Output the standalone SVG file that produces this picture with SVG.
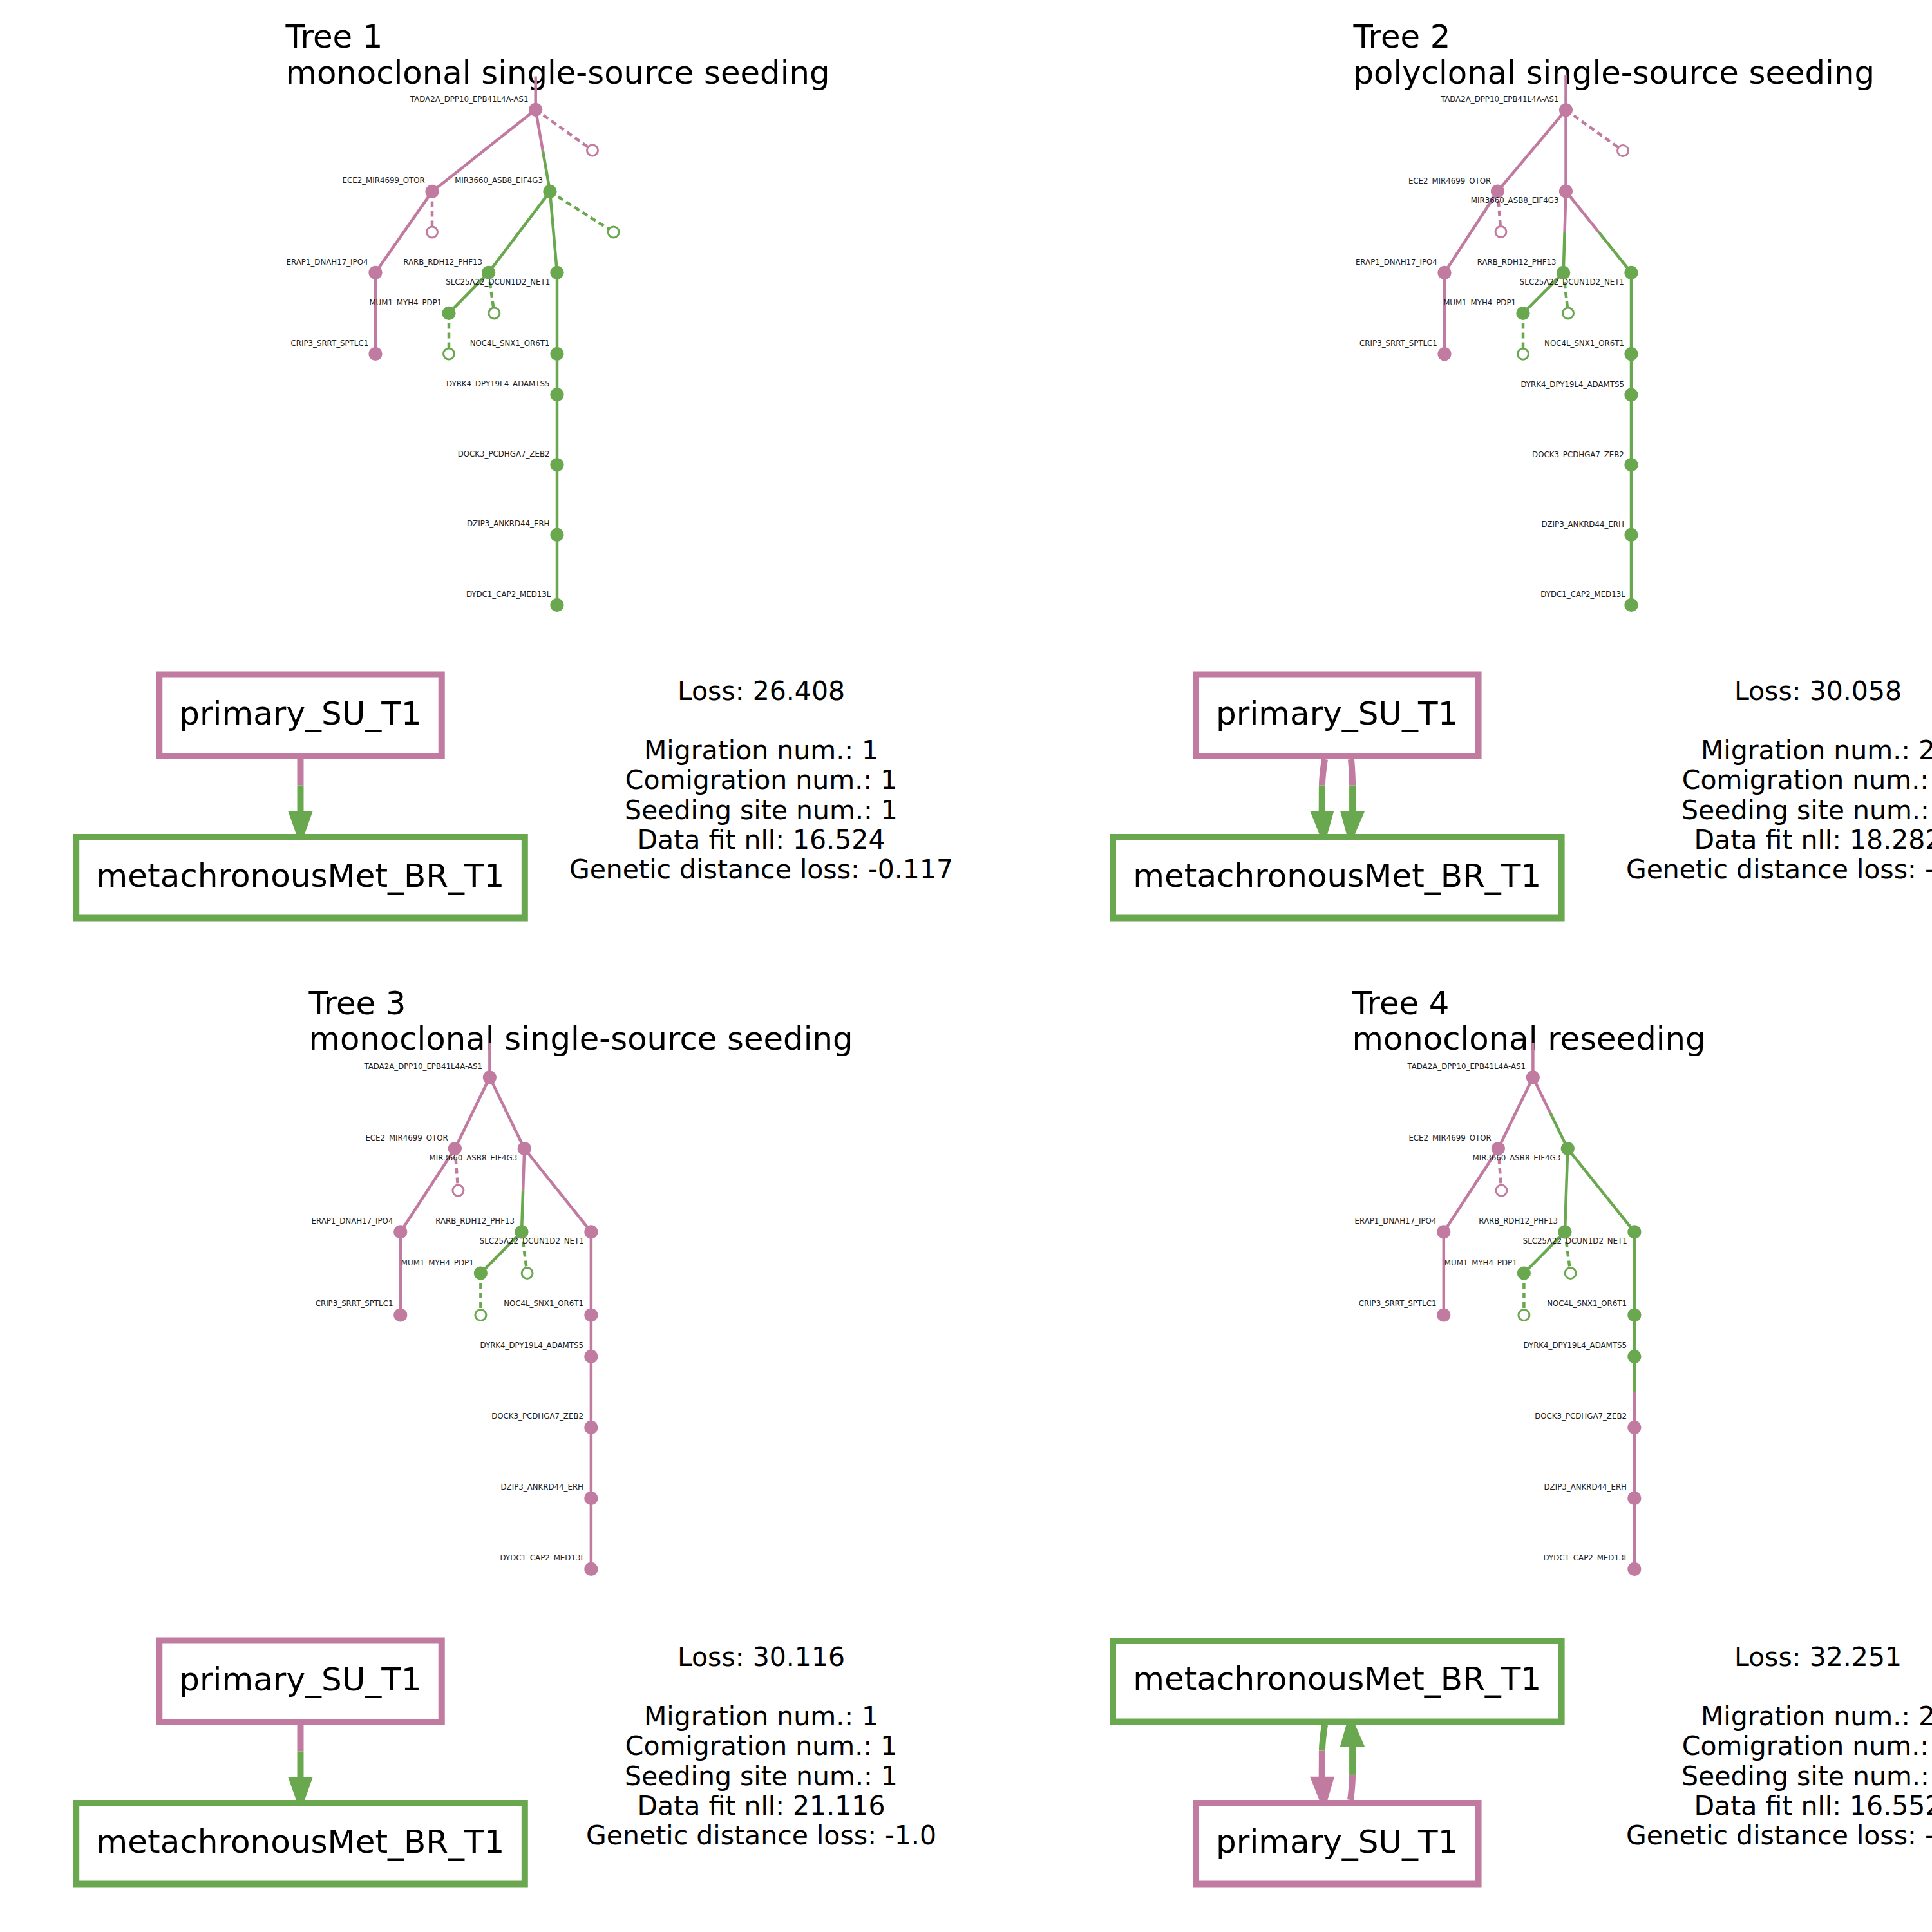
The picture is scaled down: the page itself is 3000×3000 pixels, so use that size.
<svg xmlns="http://www.w3.org/2000/svg" width="3000" height="3000" viewBox="0 0 3000 3000">
<style>
.e{fill:none;stroke-width:4.5}
.p{stroke:#c27ba0}
.g{stroke:#6aa84f}
.d{stroke-dasharray:9 6}
.np{fill:#c27ba0}
.ng{fill:#6aa84f}
.hp{fill:#fff;stroke:#c27ba0;stroke-width:3}
.hg{fill:#fff;stroke:#6aa84f;stroke-width:3}
text{font-family:'DejaVu Sans','Liberation Sans',sans-serif;fill:#000}
.l{font-size:11.8px;text-anchor:end;fill:#1a1a1a}
.t{font-size:49.7px}
.b{font-size:50px;text-anchor:middle}
.s{font-size:41px;text-anchor:middle}
.bp{fill:#fff;stroke:#c27ba0;stroke-width:10}
.bg{fill:#fff;stroke:#6aa84f;stroke-width:10}
.me{fill:none;stroke-width:10}
.ap{fill:#c27ba0}
.ag{fill:#6aa84f}
</style>
<rect width="3000" height="3000" fill="#fff"/>

<g id="titles">
<text class="t"><tspan x="443.5" y="74">Tree 1</tspan><tspan x="443.5" y="129.5">monoclonal single-source seeding</tspan></text>
<text class="t"><tspan x="2101.5" y="74">Tree 2</tspan><tspan x="2101.5" y="129.5">polyclonal single-source seeding</tspan></text>
<text class="t"><tspan x="479.5" y="1574.5">Tree 3</tspan><tspan x="479.5" y="1630">monoclonal single-source seeding</tspan></text>
<text class="t"><tspan x="2099.5" y="1574.5">Tree 4</tspan><tspan x="2099.5" y="1630">monoclonal reseeding</tspan></text>
</g>

<g id="tree-connectors">
<!-- Tree 1 -->
<path class="e p" d="M831.7,118.6V170.3"/>
<path class="e p d" d="M831.7,170.3L920,233.4"/>
<path class="e p" d="M831.7,170.3L671,297.4"/>
<path class="e p" d="M831.7,170.3L842.85,233.85"/>
<path class="e g" d="M842.85,233.85L854,297.4"/>
<path class="e p d" d="M671,297.4V360.5"/>
<path class="e g d" d="M854,297.4L952.7,360.5"/>
<path class="e p" d="M671,297.4L583,423.3V549.5"/>
<path class="e g" d="M854,297.4L758.6,423.3L697,486.4"/>
<path class="e g d" d="M758.6,423.3L767.4,486.4"/>
<path class="e g d" d="M697,486.4V549.5"/>
<path class="e g" d="M854,297.4L865,423.3V939.5"/>
<!-- Tree 2 -->
<path class="e p" d="M2431.5,117V170.8"/>
<path class="e p d" d="M2431.5,170.8L2520,234"/>
<path class="e p" d="M2431.5,170.8L2325.5,297"/>
<path class="e p" d="M2431.5,170.8V297"/>
<path class="e p d" d="M2325.5,297L2330.5,360"/>
<path class="e p" d="M2325.5,297L2243,423.4V549.7"/>
<path class="e p" d="M2431.5,297L2429.6,360.2"/>
<path class="e g" d="M2429.6,360.2L2427.7,423.4L2365,486.5"/>
<path class="e p" d="M2431.5,297L2482.25,360.2"/>
<path class="e g" d="M2482.25,360.2L2533,423.4V939.5"/>
<path class="e g d" d="M2427.7,423.4L2435,486.5"/>
<path class="e g d" d="M2365,486.5V549.7"/>
<!-- Tree 3 -->
<path class="e p" d="M760.4,1620V1672.9"/>
<path class="e p" d="M760.4,1672.9L706.4,1783.6"/>
<path class="e p" d="M760.4,1672.9L814.3,1783.6"/>
<path class="e p d" d="M706.4,1783.6L711.4,1848.6"/>
<path class="e p" d="M706.4,1783.6L621.8,1912.9V2042"/>
<path class="e p" d="M814.3,1783.6L812.15,1848.25"/>
<path class="e g" d="M812.15,1848.25L810,1912.9L746.4,1977"/>
<path class="e g d" d="M810,1912.9L818.6,1977"/>
<path class="e g d" d="M746.4,1977V2042"/>
<path class="e p" d="M814.3,1783.6L917.9,1912.9V2436.4"/>
<!-- Tree 4 -->
<path class="e p" d="M2380.4,1620V1672.9"/>
<path class="e p" d="M2380.4,1672.9L2326.4,1783.6"/>
<path class="e p" d="M2380.4,1672.9L2407.35,1728.25"/>
<path class="e g" d="M2407.35,1728.25L2434.3,1783.6"/>
<path class="e p d" d="M2326.4,1783.6L2331.4,1848.6"/>
<path class="e p" d="M2326.4,1783.6L2241.8,1912.9V2042"/>
<path class="e g" d="M2434.3,1783.6L2430,1912.9L2366.4,1977"/>
<path class="e g d" d="M2430,1912.9L2438.6,1977"/>
<path class="e g d" d="M2366.4,1977V2042"/>
<path class="e g" d="M2434.3,1783.6L2537.9,1912.9V2161.4"/>
<path class="e p" d="M2537.9,2161.4V2436.4"/>
</g>

<g id="tree1-nodes">
<g id="t1-TADA2A"><circle class="np" cx="831.7" cy="170.3" r="10.6"/><text class="l" x="820.5" y="157.7">TADA2A_DPP10_EPB41L4A-AS1</text></g>
<g id="t1-h0"><circle class="hp" cx="920" cy="233.4" r="8.5"/></g>
<g id="t1-ECE2"><circle class="np" cx="671" cy="297.4" r="10.6"/><text class="l" x="659.8" y="284">ECE2_MIR4699_OTOR</text></g>
<g id="t1-h1"><circle class="hp" cx="671" cy="360.5" r="8.5"/></g>
<g id="t1-MIR3660"><circle class="ng" cx="854" cy="297.4" r="10.6"/><text class="l" x="842.9" y="284">MIR3660_ASB8_EIF4G3</text></g>
<g id="t1-h2"><circle class="hg" cx="952.7" cy="360.5" r="8.5"/></g>
<g id="t1-ERAP1"><circle class="np" cx="583" cy="423.3" r="10.6"/><text class="l" x="571.5" y="410.6">ERAP1_DNAH17_IPO4</text></g>
<g id="t1-RARB"><circle class="ng" cx="758.6" cy="423.3" r="10.6"/><text class="l" x="749" y="410.6">RARB_RDH12_PHF13</text></g>
<g id="t1-SLC25A22"><circle class="ng" cx="865" cy="423.3" r="10.6"/><text class="l" x="854.3" y="442">SLC25A22_DCUN1D2_NET1</text></g>
<g id="t1-MUM1"><circle class="ng" cx="697" cy="486.4" r="10.6"/><text class="l" x="686.3" y="473.8">MUM1_MYH4_PDP1</text></g>
<g id="t1-h3"><circle class="hg" cx="767.4" cy="486.4" r="8.5"/></g>
<g id="t1-CRIP3"><circle class="np" cx="583" cy="549.5" r="10.6"/><text class="l" x="572.2" y="537">CRIP3_SRRT_SPTLC1</text></g>
<g id="t1-h4"><circle class="hg" cx="697" cy="549.5" r="8.5"/></g>
<g id="t1-NOC4L"><circle class="ng" cx="865" cy="549.5" r="10.6"/><text class="l" x="853.5" y="537">NOC4L_SNX1_OR6T1</text></g>
<g id="t1-DYRK4"><circle class="ng" cx="865" cy="612.7" r="10.6"/><text class="l" x="853.5" y="600">DYRK4_DPY19L4_ADAMTS5</text></g>
<g id="t1-DOCK3"><circle class="ng" cx="865" cy="721.8" r="10.6"/><text class="l" x="853.5" y="709">DOCK3_PCDHGA7_ZEB2</text></g>
<g id="t1-DZIP3"><circle class="ng" cx="865" cy="830.4" r="10.6"/><text class="l" x="853.5" y="817.4">DZIP3_ANKRD44_ERH</text></g>
<g id="t1-DYDC1"><circle class="ng" cx="865" cy="939.5" r="10.6"/><text class="l" x="855.4" y="926.5">DYDC1_CAP2_MED13L</text></g>
</g>

<g id="tree2-nodes">
<g id="t2-TADA2A"><circle class="np" cx="2431.5" cy="170.8" r="10.6"/><text class="l" x="2420.5" y="158.2">TADA2A_DPP10_EPB41L4A-AS1</text></g>
<g id="t2-h0"><circle class="hp" cx="2520" cy="234" r="8.5"/></g>
<g id="t2-ECE2"><circle class="np" cx="2325.5" cy="297" r="10.6"/><text class="l" x="2315.2" y="284.5">ECE2_MIR4699_OTOR</text></g>
<g id="t2-h1"><circle class="hp" cx="2330.5" cy="360" r="8.5"/></g>
<g id="t2-MIR3660"><circle class="np" cx="2431.5" cy="297" r="10.6"/><text class="l" x="2420.5" y="315">MIR3660_ASB8_EIF4G3</text></g>
<g id="t2-ERAP1"><circle class="np" cx="2243" cy="423.4" r="10.6"/><text class="l" x="2231.8" y="410.8">ERAP1_DNAH17_IPO4</text></g>
<g id="t2-RARB"><circle class="ng" cx="2427.7" cy="423.4" r="10.6"/><text class="l" x="2416.6" y="410.8">RARB_RDH12_PHF13</text></g>
<g id="t2-SLC25A22"><circle class="ng" cx="2533" cy="423.4" r="10.6"/><text class="l" x="2521.9" y="441.7">SLC25A22_DCUN1D2_NET1</text></g>
<g id="t2-MUM1"><circle class="ng" cx="2365" cy="486.5" r="10.6"/><text class="l" x="2354" y="474">MUM1_MYH4_PDP1</text></g>
<g id="t2-h2"><circle class="hg" cx="2435" cy="486.5" r="8.5"/></g>
<g id="t2-CRIP3"><circle class="np" cx="2243" cy="549.7" r="10.6"/><text class="l" x="2231.8" y="537.4">CRIP3_SRRT_SPTLC1</text></g>
<g id="t2-h3"><circle class="hg" cx="2365" cy="549.7" r="8.5"/></g>
<g id="t2-NOC4L"><circle class="ng" cx="2533" cy="549.7" r="10.6"/><text class="l" x="2521.9" y="537.4">NOC4L_SNX1_OR6T1</text></g>
<g id="t2-DYRK4"><circle class="ng" cx="2533" cy="613" r="10.6"/><text class="l" x="2521.9" y="600.6">DYRK4_DPY19L4_ADAMTS5</text></g>
<g id="t2-DOCK3"><circle class="ng" cx="2533" cy="721.8" r="10.6"/><text class="l" x="2521.9" y="709.5">DOCK3_PCDHGA7_ZEB2</text></g>
<g id="t2-DZIP3"><circle class="ng" cx="2533" cy="830.4" r="10.6"/><text class="l" x="2521.9" y="818">DZIP3_ANKRD44_ERH</text></g>
<g id="t2-DYDC1"><circle class="ng" cx="2533" cy="939.5" r="10.6"/><text class="l" x="2523.8" y="927">DYDC1_CAP2_MED13L</text></g>
</g>

<g id="tree3-nodes">
<g id="t3-TADA2A"><circle class="np" cx="760.4" cy="1672.9" r="10.6"/><text class="l" x="749" y="1660">TADA2A_DPP10_EPB41L4A-AS1</text></g>
<g id="t3-ECE2"><circle class="np" cx="706.4" cy="1783.6" r="10.6"/><text class="l" x="695.7" y="1771">ECE2_MIR4699_OTOR</text></g>
<g id="t3-h0"><circle class="hp" cx="711.4" cy="1848.6" r="8.5"/></g>
<g id="t3-MIR3660"><circle class="np" cx="814.3" cy="1783.6" r="10.6"/><text class="l" x="803.2" y="1802">MIR3660_ASB8_EIF4G3</text></g>
<g id="t3-ERAP1"><circle class="np" cx="621.8" cy="1912.9" r="10.6"/><text class="l" x="610.4" y="1899.6">ERAP1_DNAH17_IPO4</text></g>
<g id="t3-RARB"><circle class="ng" cx="810" cy="1912.9" r="10.6"/><text class="l" x="799" y="1899.6">RARB_RDH12_PHF13</text></g>
<g id="t3-SLC25A22"><circle class="np" cx="917.9" cy="1912.9" r="10.6"/><text class="l" x="906.8" y="1931.4">SLC25A22_DCUN1D2_NET1</text></g>
<g id="t3-MUM1"><circle class="ng" cx="746.4" cy="1977" r="10.6"/><text class="l" x="735.7" y="1964.6">MUM1_MYH4_PDP1</text></g>
<g id="t3-h1"><circle class="hg" cx="818.6" cy="1977" r="8.5"/></g>
<g id="t3-CRIP3"><circle class="np" cx="621.8" cy="2042" r="10.6"/><text class="l" x="610.4" y="2028">CRIP3_SRRT_SPTLC1</text></g>
<g id="t3-h2"><circle class="hg" cx="746.4" cy="2042" r="8.5"/></g>
<g id="t3-NOC4L"><circle class="np" cx="917.9" cy="2042" r="10.6"/><text class="l" x="906" y="2028">NOC4L_SNX1_OR6T1</text></g>
<g id="t3-DYRK4"><circle class="np" cx="917.9" cy="2106.4" r="10.6"/><text class="l" x="906" y="2092.5">DYRK4_DPY19L4_ADAMTS5</text></g>
<g id="t3-DOCK3"><circle class="np" cx="917.9" cy="2216.4" r="10.6"/><text class="l" x="906" y="2202.5">DOCK3_PCDHGA7_ZEB2</text></g>
<g id="t3-DZIP3"><circle class="np" cx="917.9" cy="2326.4" r="10.6"/><text class="l" x="906" y="2312.5">DZIP3_ANKRD44_ERH</text></g>
<g id="t3-DYDC1"><circle class="np" cx="917.9" cy="2436.4" r="10.6"/><text class="l" x="908" y="2422.5">DYDC1_CAP2_MED13L</text></g>
</g>

<g id="tree4-nodes">
<g id="t4-TADA2A"><circle class="np" cx="2380.4" cy="1672.9" r="10.6"/><text class="l" x="2369" y="1660">TADA2A_DPP10_EPB41L4A-AS1</text></g>
<g id="t4-ECE2"><circle class="np" cx="2326.4" cy="1783.6" r="10.6"/><text class="l" x="2315.7" y="1771">ECE2_MIR4699_OTOR</text></g>
<g id="t4-h0"><circle class="hp" cx="2331.4" cy="1848.6" r="8.5"/></g>
<g id="t4-MIR3660"><circle class="ng" cx="2434.3" cy="1783.6" r="10.6"/><text class="l" x="2423.2" y="1802">MIR3660_ASB8_EIF4G3</text></g>
<g id="t4-ERAP1"><circle class="np" cx="2241.8" cy="1912.9" r="10.6"/><text class="l" x="2230.4" y="1899.6">ERAP1_DNAH17_IPO4</text></g>
<g id="t4-RARB"><circle class="ng" cx="2430" cy="1912.9" r="10.6"/><text class="l" x="2419" y="1899.6">RARB_RDH12_PHF13</text></g>
<g id="t4-SLC25A22"><circle class="ng" cx="2537.9" cy="1912.9" r="10.6"/><text class="l" x="2526.8" y="1931.4">SLC25A22_DCUN1D2_NET1</text></g>
<g id="t4-MUM1"><circle class="ng" cx="2366.4" cy="1977" r="10.6"/><text class="l" x="2355.7" y="1964.6">MUM1_MYH4_PDP1</text></g>
<g id="t4-h1"><circle class="hg" cx="2438.6" cy="1977" r="8.5"/></g>
<g id="t4-CRIP3"><circle class="np" cx="2241.8" cy="2042" r="10.6"/><text class="l" x="2230.4" y="2028">CRIP3_SRRT_SPTLC1</text></g>
<g id="t4-h2"><circle class="hg" cx="2366.4" cy="2042" r="8.5"/></g>
<g id="t4-NOC4L"><circle class="ng" cx="2537.9" cy="2042" r="10.6"/><text class="l" x="2526" y="2028">NOC4L_SNX1_OR6T1</text></g>
<g id="t4-DYRK4"><circle class="ng" cx="2537.9" cy="2106.4" r="10.6"/><text class="l" x="2526" y="2092.5">DYRK4_DPY19L4_ADAMTS5</text></g>
<g id="t4-DOCK3"><circle class="np" cx="2537.9" cy="2216.4" r="10.6"/><text class="l" x="2526" y="2202.5">DOCK3_PCDHGA7_ZEB2</text></g>
<g id="t4-DZIP3"><circle class="np" cx="2537.9" cy="2326.4" r="10.6"/><text class="l" x="2526" y="2312.5">DZIP3_ANKRD44_ERH</text></g>
<g id="t4-DYDC1"><circle class="np" cx="2537.9" cy="2436.4" r="10.6"/><text class="l" x="2528" y="2422.5">DYDC1_CAP2_MED13L</text></g>
</g>

<g id="migration-connectors">
<!-- Panel 1 -->
<path class="me p" d="M466.5,1179V1219.5"/>
<path class="me g" d="M466.5,1219.5V1262"/>
<polygon class="ag" points="447.5,1260 485.5,1260 466.5,1314"/>
<!-- Panel 2 -->
<path class="me p" d="M2057,1179C2054.5,1195 2053.2,1207 2052.9,1219.5"/>
<path class="me g" d="M2052.9,1219.5L2052.7,1262"/>
<polygon class="ag" points="2034.2,1259 2071.4,1259 2056,1314"/>
<path class="me p" d="M2098,1179C2099.4,1195 2100,1207 2100.1,1219.5"/>
<path class="me g" d="M2100.1,1219.5L2100.1,1262"/>
<polygon class="ag" points="2081,1259 2119.4,1259 2096,1314"/>
<!-- Panel 3 -->
<path class="me p" d="M466.5,2679V2719.5"/>
<path class="me g" d="M466.5,2719.5V2762"/>
<polygon class="ag" points="447.5,2760 485.5,2760 466.5,2814"/>
<!-- Panel 4 -->
<path class="me g" d="M2057,2678.6C2054.5,2694.6 2053.2,2706.6 2052.9,2718.7"/>
<path class="me p" d="M2052.9,2718.7L2052.7,2761"/>
<polygon class="ap" points="2034,2758.7 2072,2758.7 2056,2813.8"/>
<path class="me p" d="M2097,2795C2099,2780 2100,2768 2100.1,2755.9"/>
<path class="me g" d="M2100.1,2755.9L2100.1,2710"/>
<polygon class="ag" points="2080.6,2712.8 2119.4,2712.8 2096,2659"/>
</g>

<g id="p1-primary"><rect class="bp" x="247.25" y="1047.5" width="438.5" height="126.5"/><text class="b" x="466.5" y="1125">primary_SU_T1</text></g>
<g id="p1-met"><rect class="bg" x="118.2" y="1300" width="696.6" height="125.5"/><text class="b" x="466.5" y="1376.5">metachronousMet_BR_T1</text></g>
<g id="p2-primary"><rect class="bp" x="1857.05" y="1047.5" width="438.5" height="126.5"/><text class="b" x="2076.3" y="1125">primary_SU_T1</text></g>
<g id="p2-met"><rect class="bg" x="1728" y="1300" width="696.6" height="125.5"/><text class="b" x="2076.3" y="1376.5">metachronousMet_BR_T1</text></g>
<g id="p3-primary"><rect class="bp" x="247.25" y="2547.5" width="438.5" height="126.5"/><text class="b" x="466.5" y="2625">primary_SU_T1</text></g>
<g id="p3-met"><rect class="bg" x="118.2" y="2800" width="696.6" height="125.5"/><text class="b" x="466.5" y="2876.5">metachronousMet_BR_T1</text></g>
<g id="p4-met"><rect class="bg" x="1728" y="2548" width="696.6" height="125.5"/><text class="b" x="2076.3" y="2624">metachronousMet_BR_T1</text></g>
<g id="p4-primary"><rect class="bp" x="1857.05" y="2800" width="438.5" height="125.5"/><text class="b" x="2076.3" y="2877">primary_SU_T1</text></g>

<g id="stats">
<text class="s"><tspan x="1182" y="1087.3">Loss: 26.408</tspan><tspan x="1182" y="1179.3">Migration num.: 1</tspan><tspan x="1182" y="1225.4">Comigration num.: 1</tspan><tspan x="1182" y="1271.5">Seeding site num.: 1</tspan><tspan x="1182" y="1317.6">Data fit nll: 16.524</tspan><tspan x="1182" y="1363.7">Genetic distance loss: -0.117</tspan></text>
<text class="s"><tspan x="2823" y="1087.3">Loss: 30.058</tspan><tspan x="2823" y="1179.3">Migration num.: 2</tspan><tspan x="2823" y="1225.4">Comigration num.: 1</tspan><tspan x="2823" y="1271.5">Seeding site num.: 1</tspan><tspan x="2823" y="1317.6">Data fit nll: 18.282</tspan><tspan x="2823" y="1363.7">Genetic distance loss: -0.117</tspan></text>
<text class="s"><tspan x="1182" y="2587.3">Loss: 30.116</tspan><tspan x="1182" y="2679.3">Migration num.: 1</tspan><tspan x="1182" y="2725.4">Comigration num.: 1</tspan><tspan x="1182" y="2771.5">Seeding site num.: 1</tspan><tspan x="1182" y="2817.6">Data fit nll: 21.116</tspan><tspan x="1182" y="2863.7">Genetic distance loss: -1.0</tspan></text>
<text class="s"><tspan x="2823" y="2587.3">Loss: 32.251</tspan><tspan x="2823" y="2679.3">Migration num.: 2</tspan><tspan x="2823" y="2725.4">Comigration num.: 2</tspan><tspan x="2823" y="2771.5">Seeding site num.: 1</tspan><tspan x="2823" y="2817.6">Data fit nll: 16.552</tspan><tspan x="2823" y="2863.7">Genetic distance loss: -0.117</tspan></text>
</g>
</svg>
